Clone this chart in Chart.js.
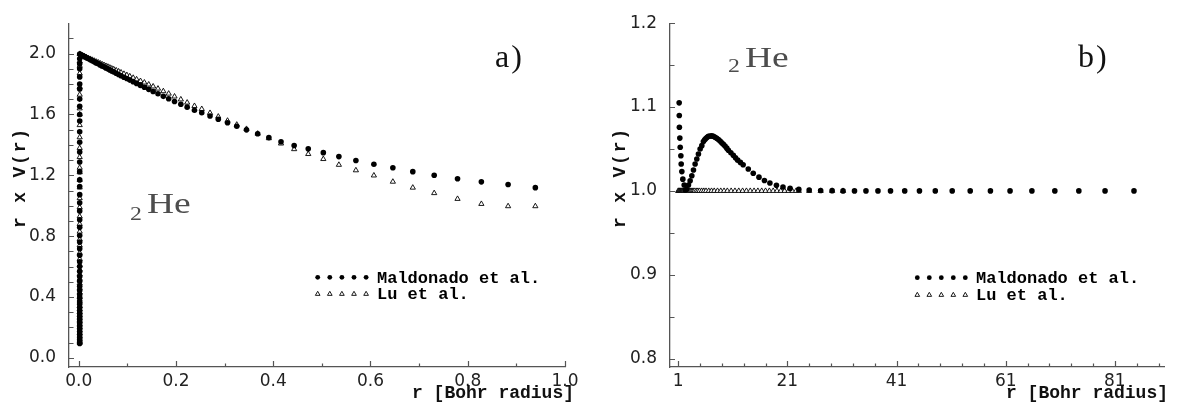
<!DOCTYPE html>
<html>
<head>
<meta charset="utf-8">
<script src="https://cdn.jsdelivr.net/npm/chart.js@4.4.0/dist/chart.umd.min.js"></script>
<style>
html,body{margin:0;padding:0;background:#ffffff;}
#wrap{position:relative;width:1178px;height:407px;overflow:hidden;background:#fff;}
canvas{position:absolute;top:0;}
</style>
</head>
<body>
<div id="wrap">
<canvas id="panelA" width="589" height="407" style="left:0px"></canvas>
<canvas id="panelB" width="589" height="407" style="left:589px"></canvas>
</div>
<script>
// ---------------- DATA ----------------
const seriesNames = ["Maldonado et al.", "Lu et al."];
const panelLabels = ["a)", "b)"];
const axisTitleX = "r [Bohr radius]";
const axisTitleY = "r x V(r)";

// tick labels
const leftXTicks  = [0.0, 0.2, 0.4, 0.6, 0.8, 1.0];
const leftXMinor  = [0.1, 0.3, 0.5, 0.7, 0.9];
const leftYTicks  = [0.0, 0.4, 0.8, 1.2, 1.6, 2.0];
const leftYMinor  = [0.1, 0.2, 0.3, 0.5, 0.6, 0.7, 0.9, 1.0, 1.1, 1.3, 1.4, 1.5, 1.7, 1.8, 1.9, 2.1];
const rightXTicks = [1, 21, 41, 61, 81];
const rightXMinor = [5, 9, 13, 17, 25, 29, 33, 37, 45, 49, 53, 57, 65, 69, 73, 77, 85, 89];
const rightYTicks = [0.8, 0.9, 1.0, 1.1, 1.2];
const rightYMinor = [0.85, 0.95, 1.05, 1.15];

// panel a) Maldonado et al. : r values
const maldLeftR = [
  0.002,0.002,0.002,0.002,0.002,0.002,0.002,0.002,0.002,0.002,
  0.002,0.002,0.002,0.002,0.002,0.002,0.002,0.002,0.002,0.002,
  0.002,0.002,0.002,0.002,0.002,0.002,0.002,0.002,0.002,0.002,
  0.002,0.002,0.002,0.002,0.002,0.002,0.002,0.002,0.002,0.002,
  0.002,0.002,0.002,0.002,0.002,0.002,0.002,0.002,0.002,0.002,
  0.002,0.002,0.002,
  0.004,0.008,0.012,0.016,0.020,0.024,0.028,0.032,0.036,0.040,
  0.044,0.048,0.052,0.056,0.060,0.064,0.068,0.072,0.077,0.082,
  0.087,0.093,0.099,0.105,0.112,0.119,0.127,0.135,0.144,0.153,
  0.163,0.174,0.185,0.197,0.210,0.223,0.238,0.253,0.270,0.287,
  0.306,0.325,0.345,0.368,0.391,0.416,0.443,0.472,0.503,0.535,
  0.570,0.607,0.646,0.687,0.731,0.779,0.828,0.883,0.939
];
// panel a) Maldonado et al. : r x V(r)
const maldLeftV = [
  0.095,0.103,0.120,0.137,0.155,0.172,0.189,0.206,0.224,0.241,
  0.258,0.275,0.292,0.310,0.331,0.353,0.374,0.396,0.417,0.443,
  0.471,0.503,0.535,0.568,0.600,0.632,0.675,0.718,0.761,0.804,
  0.858,0.908,0.966,1.019,1.073,1.127,1.170,1.224,1.288,1.353,
  1.417,1.486,1.557,1.600,1.654,1.701,1.768,1.800,1.847,1.901,
  1.934,1.966,1.998,
  1.993,1.987,1.980,1.973,1.966,1.960,1.953,1.946,1.939,1.933,
  1.926,1.919,1.913,1.906,1.900,1.893,1.886,1.880,1.871,1.863,
  1.855,1.845,1.836,1.826,1.815,1.804,1.791,1.779,1.765,1.751,
  1.736,1.719,1.703,1.685,1.667,1.648,1.628,1.611,1.590,1.569,
  1.546,1.523,1.499,1.473,1.448,1.421,1.396,1.374,1.349,1.323,
  1.297,1.273,1.250,1.224,1.200,1.177,1.157,1.140,1.119
];
// panel a) Lu et al. : r values
const luLeftR = [
  0.002,0.002,0.002,0.002,0.002,0.002,0.002,0.002,0.002,0.002,
  0.002,0.002,0.002,0.002,0.002,0.002,0.002,0.002,0.002,0.002,
  0.002,0.002,0.002,0.002,0.002,0.002,0.002,0.002,0.002,0.002,
  0.002,0.002,0.002,0.002,0.002,0.002,0.002,0.002,0.002,0.002,
  0.002,0.002,0.002,0.002,0.002,0.002,0.002,
  0.004,0.008,0.012,0.016,0.020,0.024,0.028,0.032,0.036,0.040,
  0.044,0.048,0.052,0.056,0.060,0.064,0.068,0.072,0.077,0.082,
  0.087,0.093,0.099,0.105,0.112,0.119,0.127,0.135,0.144,0.153,
  0.163,0.174,0.185,0.197,0.210,0.223,0.238,0.253,0.270,0.287,
  0.306,0.325,0.345,0.368,0.391,0.416,0.443,0.472,0.503,0.535,
  0.570,0.607,0.646,0.687,0.731,0.779,0.828,0.883,0.939
];
// panel a) Lu et al. : r x V(r)
const luLeftV = [
  1.998,1.950,1.920,1.870,1.780,1.730,1.640,1.600,1.530,1.450,
  1.380,1.320,1.250,1.220,1.170,1.120,1.050,0.990,0.930,0.880,
  0.830,0.780,0.740,0.690,0.650,0.610,0.580,0.550,0.520,0.490,
  0.460,0.430,0.400,0.370,0.340,0.320,0.300,0.280,0.260,0.240,
  0.220,0.200,0.180,0.160,0.140,0.120,0.100,
  1.994,1.988,1.982,1.976,1.970,1.965,1.959,1.953,1.947,1.942,
  1.936,1.930,1.925,1.919,1.914,1.908,1.902,1.897,1.890,1.883,
  1.876,1.867,1.859,1.851,1.841,1.831,1.820,1.810,1.797,1.784,
  1.770,1.753,1.737,1.718,1.699,1.678,1.656,1.636,1.610,1.586,
  1.559,1.533,1.505,1.474,1.444,1.409,1.372,1.340,1.307,1.269,
  1.233,1.199,1.158,1.119,1.083,1.045,1.012,0.997,0.997
];

// panel b) Maldonado et al.
const maldRightR = [
  1.18,1.20,1.22,1.30,1.37,1.49,1.55,1.67,1.85,2.10,
  2.28,2.55,2.88,3.19,3.50,3.80,4.10,4.41,4.71,5.02,
  5.33,5.62,5.85,6.06,6.30,6.54,6.85,7.15,7.45,7.76,
  8.06,8.37,8.68,8.98,9.28,9.58,9.90,10.20,10.65,11.10,
  11.50,11.90,12.40,12.90,13.84,14.75,15.80,16.80,17.80,19.00,
  20.20,21.50,23.10,25.00,27.10,29.20,31.20,33.30,35.40,37.60,
  39.90,42.50,45.20,48.10,51.20,54.50,58.20,61.80,65.80,70.00,
  74.40,79.20,84.50
];
const maldRightV = [
  1.105,1.090,1.076,1.063,1.052,1.042,1.032,1.023,1.014,1.007,
  1.001,1.002,1.007,1.012,1.018,1.025,1.032,1.038,1.044,1.050,
  1.054,1.059,1.061,1.0625,1.064,1.065,1.0655,1.0656,1.065,1.064,
  1.0628,1.0613,1.0595,1.0574,1.0555,1.0535,1.051,1.0484,1.0455,1.0425,
  1.0396,1.0367,1.034,1.0312,1.0261,1.0211,1.0164,1.0124,1.0094,1.0066,
  1.0047,1.003,1.0018,1.001,1.0005,1.0003,1.000,1.000,1.000,1.000,
  1.000,1.000,1.000,1.000,1.000,1.000,1.000,1.000,1.000,1.000,
  1.000,1.000,1.000
];
// panel b) Lu et al.
const luRightR = [
  1.00,1.10,1.20,1.30,1.40,1.50,1.60,1.70,1.80,1.90,
  2.00,2.20,2.40,2.60,2.80,3.00,3.20,3.40,3.60,3.80,
  4.00,4.30,4.60,4.90,5.30,5.70,6.10,6.60,7.10,7.60,
  8.20,8.80,9.40,10.00,10.70,11.40,12.10,12.80,13.50,14.20,
  14.90,15.60,16.30,17.00,17.70,18.40,19.10,19.80,20.50,21.20,
  21.90,22.60,23.10,25.00,27.10,29.20,31.20
];
const luRightV = [
  1.000,1.000,1.000,1.000,1.000,1.000,1.000,1.000,1.000,1.000,
  1.000,1.000,1.000,1.000,1.000,1.000,1.000,1.000,1.000,1.000,
  1.000,1.000,1.000,1.000,1.000,1.000,1.000,1.000,1.000,1.000,
  1.000,1.000,1.000,1.000,1.000,1.000,1.000,1.000,1.000,1.000,
  1.000,1.000,1.000,1.000,1.000,1.000,1.000,1.000,1.000,1.000,
  1.000,1.000,1.000,1.000,1.000,1.000,1.000
];

// ---------------- RENDERING ----------------
function toPoints(rs, vs) {
  const out = [];
  for (let i = 0; i < Math.min(rs.length, vs.length); i++) out.push({x: rs[i], y: vs[i]});
  return out;
}

const deco = {
  panelA: {
    xMajor: leftXTicks, xMinor: leftXMinor, yMajor: leftYTicks, yMinor: leftYMinor,
    label: panelLabels[0], labelX: 495, labelY: 67,
    heX: 130, heSubY: 220, heY: 213,
    legDotX: 317.7, legDx: 12.1, legRow1: 277.3, legRow2: 294, legTextX: 377,
    yTitleX: 20, yTitleY: 177.5, xTitleRight: 574, xTitleY: 398
  },
  panelB: {
    xMajor: rightXTicks, xMinor: rightXMinor, yMajor: rightYTicks, yMinor: rightYMinor,
    label: panelLabels[1], labelX: 489, labelY: 67,
    heX: 139, heSubY: 72, heY: 67,
    legDotX: 328.3, legDx: 12.0, legRow1: 277.7, legRow2: 295, legTextX: 387,
    yTitleX: 31, yTitleY: 177.5, xTitleRight: 579, xTitleY: 398
  }
};

const decoPlugin = {
  id: 'decoPlugin',
  afterDraw(chart) {
    const d = deco[chart.canvas.id];
    if (!d) return;
    const ctx = chart.ctx;
    const xs = chart.scales.x, ys = chart.scales.y, ca = chart.chartArea;
    ctx.save();
    // inward tick marks
    ctx.strokeStyle = '#555';
    ctx.lineWidth = 1.2;
    ctx.beginPath();
    d.xMajor.forEach(v => { const p = Math.round(xs.getPixelForValue(v)) + 0.5; ctx.moveTo(p, ca.bottom); ctx.lineTo(p, ca.bottom - 6); });
    d.xMinor.forEach(v => { const p = Math.round(xs.getPixelForValue(v)) + 0.5; ctx.moveTo(p, ca.bottom); ctx.lineTo(p, ca.bottom - 3.5); });
    d.yMajor.forEach(v => { const p = Math.round(ys.getPixelForValue(v)) + 0.5; ctx.moveTo(ca.left, p); ctx.lineTo(ca.left + 5, p); });
    d.yMinor.forEach(v => { const p = Math.round(ys.getPixelForValue(v)) + 0.5; ctx.moveTo(ca.left, p); ctx.lineTo(ca.left + 4.5, p); });
    ctx.stroke();

    // y axis title
    ctx.fillStyle = '#111';
    ctx.save();
    ctx.translate(d.yTitleX, d.yTitleY);
    ctx.rotate(-Math.PI / 2);
    ctx.font = 'bold 18px "Liberation Mono"';
    ctx.letterSpacing = '1.8px';
    ctx.textAlign = 'center';
    ctx.textBaseline = 'middle';
    ctx.fillText(axisTitleY, 0, 0);
    ctx.restore();

    // x axis title
    ctx.font = 'bold 18px "Liberation Mono"';
    ctx.letterSpacing = '0px';
    ctx.textAlign = 'right';
    ctx.textBaseline = 'alphabetic';
    ctx.fillText(axisTitleX, d.xTitleRight, d.xTitleY);

    // panel label
    ctx.font = '32px "Liberation Serif"';
    ctx.letterSpacing = '2px';
    ctx.textAlign = 'left';
    ctx.fillStyle = '#111';
    ctx.fillText(d.label, d.labelX, d.labelY);

    // element label  2He (wide roman, horizontally stretched)
    ctx.letterSpacing = '0px';
    ctx.fillStyle = '#4d4d4d';
    ctx.save();
    ctx.translate(d.heX, 0);
    ctx.scale(1.25, 1);
    ctx.font = '19px "Liberation Serif"';
    ctx.fillText('2', 0, d.heSubY);
    ctx.font = '30px "Liberation Serif"';
    ctx.fillText('He', 13.5, d.heY);
    ctx.restore();

    // legend
    ctx.fillStyle = '#000';
    for (let i = 0; i < 5; i++) {
      const x = d.legDotX + i * d.legDx;
      ctx.beginPath();
      ctx.arc(x, d.legRow1, 2.4, 0, Math.PI * 2);
      ctx.fill();
    }
    ctx.strokeStyle = '#000';
    ctx.lineWidth = 0.9;
    for (let i = 0; i < 5; i++) {
      const x = d.legDotX + i * d.legDx, y = d.legRow2, r = 2.7;
      ctx.beginPath();
      ctx.moveTo(x, y - r);
      ctx.lineTo(x + r * 0.866, y + r * 0.5);
      ctx.lineTo(x - r * 0.866, y + r * 0.5);
      ctx.closePath();
      ctx.stroke();
    }
    ctx.font = 'bold 17px "Liberation Mono"';
    ctx.textBaseline = 'middle';
    ctx.fillText(seriesNames[0], d.legTextX, d.legRow1 + 1);
    ctx.fillText(seriesNames[1], d.legTextX, d.legRow2 + 1);
    ctx.restore();
  }
};

function makePanel(id, cfg) {
  const tickFont = {family: 'DejaVu Sans', size: 17};
  return new Chart(document.getElementById(id), {
    type: 'scatter',
    data: {
      datasets: [
        {
          label: seriesNames[0],
          data: toPoints(cfg.mR, cfg.mV),
          pointStyle: 'circle', pointRadius: 2.8,
          pointBackgroundColor: '#000', pointBorderColor: '#000', pointBorderWidth: 0
        },
        {
          label: seriesNames[1],
          data: toPoints(cfg.lR, cfg.lV),
          pointStyle: 'triangle', pointRadius: 3.0,
          pointBackgroundColor: '#fff', pointBorderColor: '#000', pointBorderWidth: 0.9
        }
      ]
    },
    options: {
      responsive: false,
      animation: false,
      events: [],
      layout: {padding: {left: 0, top: 17, right: cfg.padRight, bottom: 0}},
      plugins: {legend: {display: false}, tooltip: {enabled: false}},
      scales: {
        x: {
          type: 'linear', min: cfg.xMin, max: cfg.xMax,
          grid: {display: false, drawTicks: false},
          border: {display: true, color: '#555', width: 1.3},
          ticks: {font: tickFont, color: '#222', padding: 4, autoSkip: false, maxRotation: 0,
                  callback: cfg.xFmt},
          afterBuildTicks: s => { s.ticks = cfg.xTicks.map(v => ({value: v})); },
          afterFit: s => { s.height = 40; }
        },
        y: {
          type: 'linear', min: cfg.yMin, max: cfg.yMax,
          grid: {display: false, drawTicks: false},
          border: {display: true, color: '#555', width: 1.3},
          ticks: {font: tickFont, color: '#222', padding: 13, autoSkip: false,
                  callback: v => Number(v).toFixed(1)},
          afterBuildTicks: s => { s.ticks = cfg.yTicks.map(v => ({value: v})); },
          afterFit: s => { s.width = cfg.yWidth; }
        }
      }
    },
    plugins: [decoPlugin]
  });
}

makePanel('panelA', {
  mR: maldLeftR, mV: maldLeftV, lR: luLeftR, lV: luLeftV,
  xMin: -0.02, xMax: 1.0, yMin: -0.06, yMax: 2.2,
  xTicks: leftXTicks, yTicks: leftYTicks,
  xFmt: v => Number(v).toFixed(1),
  yWidth: 69, padRight: 24
});
makePanel('panelB', {
  mR: maldRightR, mV: maldRightV, lR: luRightR, lV: luRightV,
  xMin: -0.5, xMax: 90, yMin: 0.79, yMax: 1.2,
  xTicks: rightXTicks, yTicks: rightYTicks,
  xFmt: v => String(v),
  yWidth: 81, padRight: 14
});
</script>
</body>
</html>
